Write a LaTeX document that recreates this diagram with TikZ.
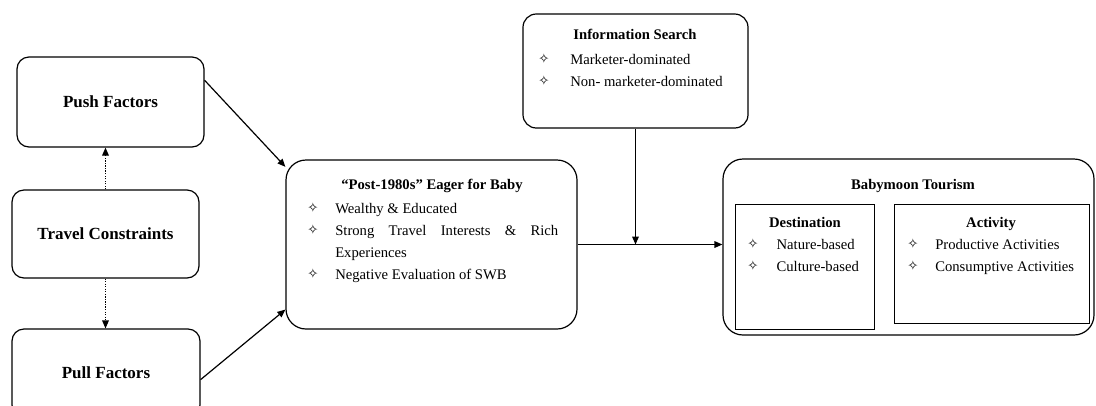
\documentclass[tikz,border=0pt]{standalone}
\usepackage{fontspec}
\setmainfont{Liberation Serif}
\newfontfamily\symfont{DejaVu Sans}
\usetikzlibrary{arrows.meta, positioning}

\newcommand{\starmark}{\raisebox{0.3pt}{\symfont\fontsize{10}{10}\selectfont ✧}}
\newcommand{\itm}[2][21pt]{\hangindent=#1\hangafter=1\noindent\makebox[#1][l]{\starmark}#2\par}

\tikzset{
  box/.style={draw, line width=0.9pt, rounded corners=9pt, font=\fontsize{12.75}{15}\selectfont\bfseries},
  bigbox/.style={draw, line width=0.9pt, rounded corners=15pt},
  subbox/.style={draw, line width=0.7pt},
  head/.style={anchor=base, inner sep=0pt, font=\fontsize{11}{16.3}\selectfont\bfseries},
  items/.style={anchor=base west, inner sep=0pt, font=\fontsize{11}{16.5}\selectfont, align=justify,
    execute at begin node={\hyphenpenalty=10000 \tolerance=9999 }},
  arr/.style={->, line width=0.9pt},
  dotarr/.style={->, line width=0.9pt, densely dotted},
  >={Triangle[length=6pt, width=5pt]}
}

\begin{document}
\begin{tikzpicture}[x=0.75pt, y=-0.75pt]
\useasboundingbox (0,0) rectangle (1096,405);

% left column
\node[box, minimum width=140.25pt, minimum height=67.5pt] (push) at (110.5,102) {Push Factors};
\node[box, minimum width=140.25pt, minimum height=66pt] (travel) at (105.5,234) {Travel Constraints};
\node[box, minimum width=141pt, minimum height=66pt] (pull) at (106,373) {Pull Factors};

% post-1980s
\node[bigbox, minimum width=218.25pt, minimum height=126.75pt] (post) at (431.5,244.5) {};
\node[head] (posthead) at (432,189) {“Post-1980s” Eager for Baby};
\node[items, text width=188.25pt] (postlist) at (307,213)
  {\itm{Wealthy \& Educated}\itm{Strong Travel Interests \& Rich Experiences}\itm{Negative Evaluation of SWB}};

% information search
\node[bigbox, rounded corners=10pt, minimum width=168.75pt, minimum height=85.5pt] (info) at (635.5,71) {};
\node[head] (infohead) at (635,39) {Information Search};
\node[items, text width=150pt] (infolist) at (538,64)
  {\itm[24pt]{Marketer-dominated}\itm[24pt]{Non- marketer-dominated}};

% babymoon tourism
\node[bigbox, minimum width=278.25pt, minimum height=132pt] (baby) at (908.5,247) {};
\node[head] (babyhead) at (913,189) {Babymoon Tourism};

\node[subbox, minimum width=104.25pt, minimum height=93.75pt] (dest) at (804.5,266.5) {};
\node[head] (desthead) at (805,227) {Destination};
\node[items, text width=92pt] (destlist) at (747,249)
  {\itm[22pt]{Nature-based}\itm[22pt]{Culture-based}};

\node[subbox, minimum width=146.25pt, minimum height=89.25pt] (act) at (991.5,263.5) {};
\node[head] (acthead) at (991,227) {Activity};
\node[items, text width=133.5pt] (actlist) at (907,249)
  {\itm{Productive Activities}\itm{Consumptive Activities}};

% connectors
\draw[arr] (push.13) -- (post.152);
\draw[arr] (pull.-4) -- (post.204);
\draw[dotarr] (travel.north) -- (travel.north |- push.south);
\draw[dotarr] (travel.south) -- (travel.south |- pull.north);
\draw[arr] (post.east) -- (post.east -| baby.west);
\draw[arr] (info.south) -- (info.south |- post.east);
\end{tikzpicture}
\end{document}
